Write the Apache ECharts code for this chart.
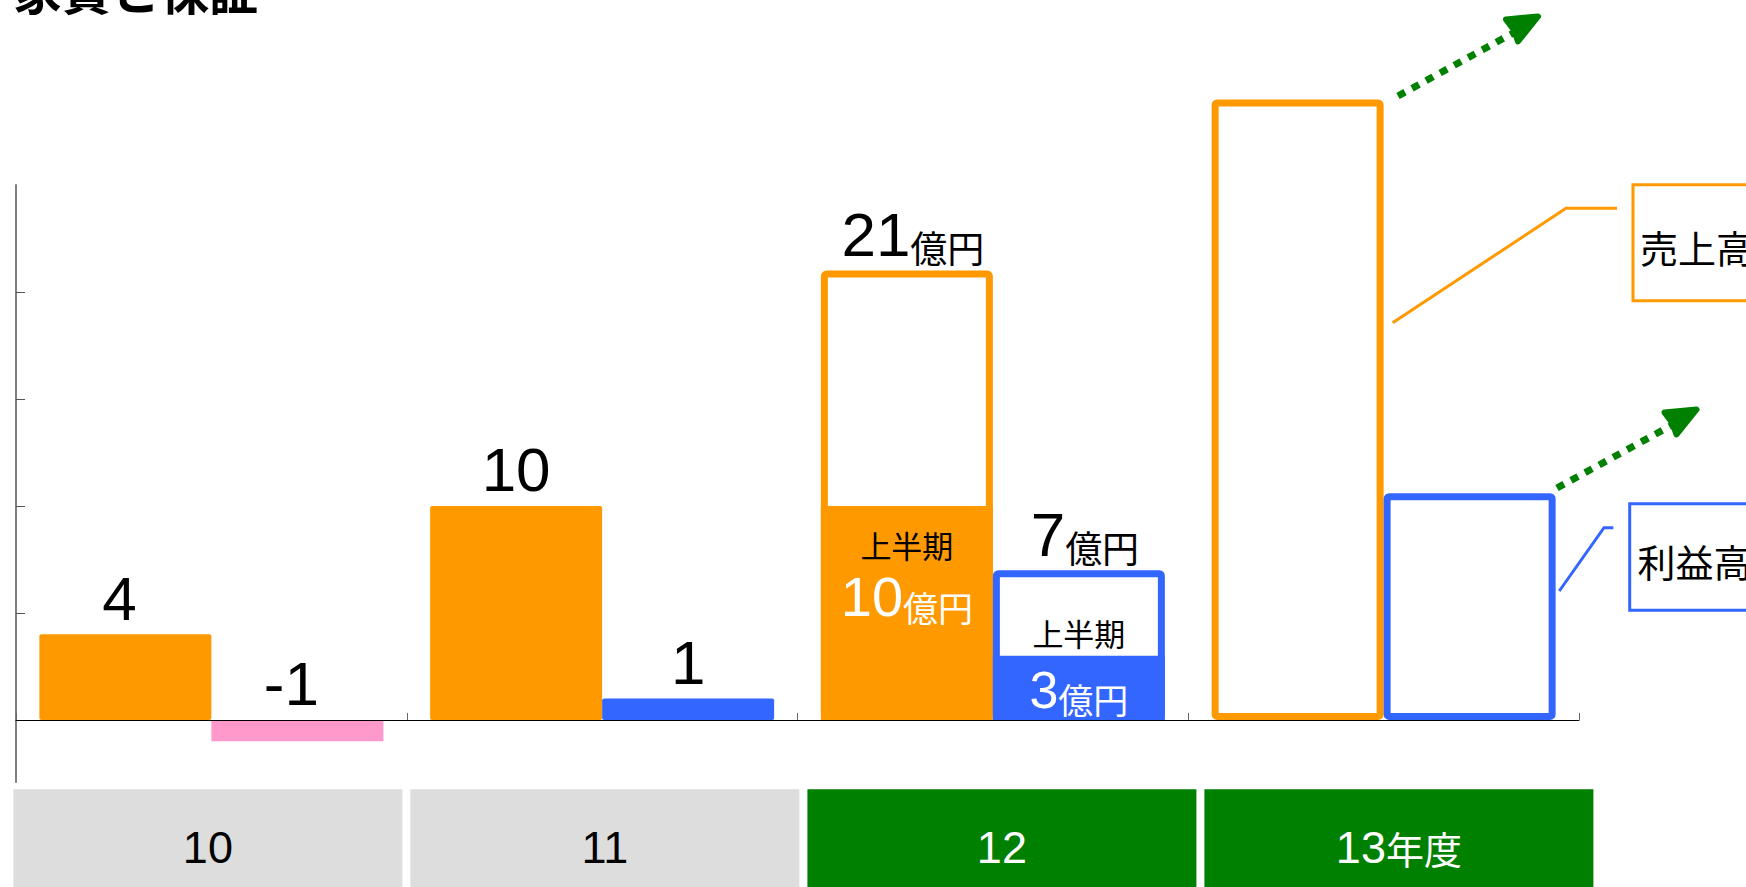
<!DOCTYPE html>
<html><head><meta charset="utf-8">
<script src="https://cdn.jsdelivr.net/npm/echarts@6/dist/echarts.min.js"></script>
<style>html,body{margin:0;padding:0;background:#fff}#c{width:1746px;height:887px}</style>
</head><body><div id="c"></div>
<script>
// ---- data ----
const title = '家賃と保証';
const categories = ['10', '11', '12', '13年度'];
const salesValues = [4, 10, 21, 29.0];          // 売上高 (億円); 13年度 unlabeled
const profitValues = [-1, 1, 7, 10.6];          // 利益高 (億円)
const salesFirstHalf = [null, null, 10, null];  // 上半期 売上高
const profitFirstHalf = [null, null, 3, null];  // 上半期 利益高
const yTickValues = [0, 5, 10, 15, 20];
const halfLabel = '上半期';
const unitLabel = '億円';
const calloutSales = '売上高';
const calloutProfit = '利益高';

// ---- styles ----
const ORANGE = '#FF9900', BLUE = '#3366FF', PINK = '#FF99CC', GREEN = '#008000', GRAY = '#DDDDDD';
const NUM = "'Liberation Sans', 'Noto Sans CJK JP', sans-serif";
const CJK = "'Noto Sans CJK JP', sans-serif";
const highlighted = i => i >= 2;   // 12 and 13年度 are the highlighted (outlined) years
const labelShift = [-6, 0, 6, 0];  // small horizontal nudges of the value labels

function items(values, color, negColor) {
  return values.map((v, i) => ({
    value: v,
    label: { offset: [labelShift[i], 0] },
    itemStyle: highlighted(i)
      ? { color: '#ffffff', borderColor: color, borderWidth: 7, borderJoin: 'round', borderRadius: 2 }
      : { color: v < 0 ? negColor : color, borderRadius: v < 0 ? 0 : 2 }
  }));
}

const topRich = {
  n: { fontSize: 62, fontFamily: NUM, color: '#000', lineHeight: 62, verticalAlign: 'bottom' },
  u: { fontSize: 37, fontFamily: CJK, color: '#000', lineHeight: 50, verticalAlign: 'bottom' }
};
function topLabel(p) {
  const i = p.dataIndex;
  if (i === 3) return '';
  return '{n|' + p.value + '}' + (i === 2 ? '{u|' + unitLabel + '}' : '');
}

const chart = echarts.init(document.getElementById('c'), null, { renderer: 'svg' });
chart.setOption({
  backgroundColor: '#ffffff',
  animation: false,
  grid: [
    { left: 16, right: 167, top: 185, bottom: 105 },
    { left: 9.4, width: 1588, top: 789, height: 1 }
  ],
  xAxis: [
    { type: 'category', gridIndex: 0, data: categories, z: 10,
      axisLine: { onZero: true, lineStyle: { color: '#000', width: 1 } },
      axisTick: { show: true, inside: true, length: 7, lineStyle: { color: '#666' } },
      axisLabel: { show: false } },
    { type: 'category', gridIndex: 0, data: categories, show: false },
    { type: 'category', gridIndex: 1, position: 'bottom',
      data: categories.map((c, i) => ({
        value: c,
        textStyle: { backgroundColor: highlighted(i) ? GREEN : GRAY, color: highlighted(i) ? '#fff' : '#000' }
      })),
      axisLine: { show: false }, axisTick: { show: false },
      axisLabel: {
        interval: 0, margin: 0, width: 389, height: 116, lineHeight: 116, align: 'center',
        fontSize: 45, fontFamily: NUM,
        formatter: v => {
          const m = v.match(/^(\d+)(.*)$/);
          return m[2] ? m[1] + '{c|' + m[2] + '}' : v;
        },
        rich: { c: { fontSize: 38, fontFamily: CJK, lineHeight: 116 } }
      } }
  ],
  yAxis: [
    { type: 'value', gridIndex: 0, min: -2.9, max: 25,
      axisLine: { show: true, lineStyle: { color: '#7f7f7f', width: 2 } },
      axisTick: { show: true, inside: true, length: 9, customValues: yTickValues, lineStyle: { color: '#555' } },
      axisLabel: { show: false }, splitLine: { show: false } },
    { type: 'value', gridIndex: 1, show: false }
  ],
  series: [
    { name: '売上高', type: 'bar', xAxisIndex: 0, yAxisIndex: 0, barWidth: 172, barGap: '0%', clip: false, z: 2,
      data: items(salesValues, ORANGE, ORANGE),
      label: { show: true, position: 'top', distance: 5, formatter: topLabel, rich: topRich } },
    { name: '売上高上半期', type: 'bar', xAxisIndex: 1, yAxisIndex: 0, barWidth: 172, barGap: '0%', clip: false, z: 3,
      data: salesFirstHalf,
      itemStyle: { color: ORANGE },
      label: { show: true, position: 'inside', offset: [0, -38],
        formatter: p => '{h|' + halfLabel + '}\n{n|' + p.value + '}{u|' + unitLabel + '}',
        rich: {
          h: { fontSize: 31, fontFamily: CJK, color: '#000', lineHeight: 39 },
          n: { fontSize: 56, fontFamily: NUM, color: '#fff', lineHeight: 60, verticalAlign: 'bottom' },
          u: { fontSize: 35, fontFamily: CJK, color: '#fff', lineHeight: 51, verticalAlign: 'bottom' }
        } } },
    { name: '利益高', type: 'bar', xAxisIndex: 0, yAxisIndex: 0, barWidth: 172, barGap: '0%', clip: false, z: 4,
      data: items(profitValues, BLUE, PINK),
      label: { show: true, position: 'top', distance: 5, formatter: topLabel, rich: topRich } },
    { name: '利益高上半期', type: 'bar', xAxisIndex: 1, yAxisIndex: 0, barWidth: 172, barGap: '0%', clip: false, z: 5,
      data: profitFirstHalf,
      itemStyle: { color: BLUE },
      label: { show: true, position: 'inside', offset: [0, -27],
        formatter: p => '{h|' + halfLabel + '}\n{n|' + p.value + '}{u|' + unitLabel + '}',
        rich: {
          h: { fontSize: 31, fontFamily: CJK, color: '#000', lineHeight: 54 },
          n: { fontSize: 52, fontFamily: NUM, color: '#fff', lineHeight: 56, verticalAlign: 'bottom' },
          u: { fontSize: 35, fontFamily: CJK, color: '#fff', lineHeight: 53, verticalAlign: 'bottom' }
        } } }
  ],
  graphic: [
    { type: 'text', z: 20, style: { text: title, x: 13, y: -12, font: 'bold 49px "Noto Sans CJK JP"', fill: '#000',
      textVerticalAlign: 'middle', verticalAlign: 'middle' } },
    // callout: 売上高
    { type: 'rect', z: 20, shape: { x: 1633, y: 184.7, width: 200, height: 116 },
      style: { fill: '#fff', stroke: ORANGE, lineWidth: 3 } },
    { type: 'text', z: 21, style: { text: calloutSales, x: 1640, y: 246, font: '38px "Noto Sans CJK JP"', fill: '#000',
      textVerticalAlign: 'middle', verticalAlign: 'middle' } },
    { type: 'polyline', z: 20, shape: { points: [[1392.7, 322.7], [1566, 208.3], [1617, 208.3]] },
      style: { stroke: ORANGE, lineWidth: 3, fill: null } },
    // callout: 利益高
    { type: 'rect', z: 20, shape: { x: 1629.7, y: 503.7, width: 200, height: 106.6 },
      style: { fill: '#fff', stroke: BLUE, lineWidth: 3 } },
    { type: 'text', z: 21, style: { text: calloutProfit, x: 1637.5, y: 560, font: '38px "Noto Sans CJK JP"', fill: '#000',
      textVerticalAlign: 'middle', verticalAlign: 'middle' } },
    { type: 'polyline', z: 20, shape: { points: [[1559.3, 591], [1604, 527.7], [1613.3, 527.7]] },
      style: { stroke: BLUE, lineWidth: 3, fill: null } },
    // growth arrows
    { type: 'line', z: 20, shape: { x1: 1398, y1: 96, x2: 1515, y2: 32 },
      style: { stroke: GREEN, lineWidth: 7, lineDash: [8, 8] } },
    { type: 'polygon', z: 20, shape: { points: [[1538, 16.5], [1506, 19.5], [1514, 30], [1518, 41.5]] },
      style: { fill: GREEN, stroke: GREEN, lineWidth: 6, lineJoin: 'round' } },
    { type: 'line', z: 20, shape: { x1: 1557, y1: 488, x2: 1674, y2: 424 },
      style: { stroke: GREEN, lineWidth: 7, lineDash: [8, 8] } },
    { type: 'polygon', z: 20, shape: { points: [[1696.5, 409.5], [1664.5, 412.5], [1672.5, 423], [1676.5, 434.5]] },
      style: { fill: GREEN, stroke: GREEN, lineWidth: 6, lineJoin: 'round' } }
  ]
});
</script></body></html>
